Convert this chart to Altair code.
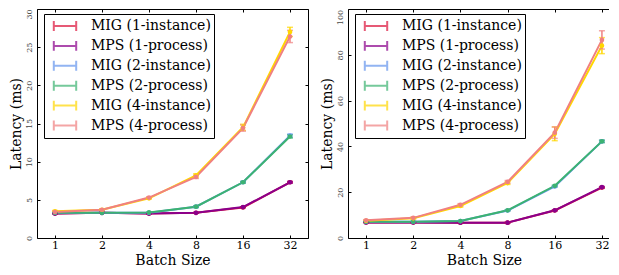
import altair as alt
import pandas as pd

batches = ["1", "2", "4", "8", "16", "32"]
series = ["MIG (1-instance)", "MPS (1-process)", "MIG (2-instance)",
          "MPS (2-process)", "MIG (4-instance)", "MPS (4-process)"]
colors = ["#dc143c", "#8b008b", "#6495ed", "#3cb371", "#ffd700", "#f08080"]

# left panel latency (ms)
left_vals = [
    [3.2, 3.3, 3.2, 3.3, 4.0, 7.3],
    [3.2, 3.3, 3.2, 3.3, 4.05, 7.3],
    [3.3, 3.3, 3.3, 4.1, 7.3, 13.4],
    [3.3, 3.3, 3.35, 4.1, 7.3, 13.3],
    [3.5, 3.7, 5.2, 8.2, 14.5, 27.0],
    [3.4, 3.7, 5.3, 8.0, 14.4, 26.4],
]
left_err = [
    [0.05, 0.05, 0.05, 0.05, 0.05, 0.1],
    [0.05, 0.05, 0.05, 0.05, 0.05, 0.1],
    [0.05, 0.05, 0.05, 0.1, 0.1, 0.2],
    [0.05, 0.05, 0.05, 0.1, 0.1, 0.2],
    [0.1, 0.1, 0.1, 0.2, 0.4, 0.6],
    [0.1, 0.1, 0.1, 0.2, 0.4, 0.8],
]
# right panel latency (ms)
right_vals = [
    [6.8, 6.8, 6.7, 6.7, 12.0, 22.0],
    [6.8, 6.8, 6.7, 6.7, 12.1, 22.2],
    [7.1, 7.1, 7.4, 12.0, 22.5, 42.2],
    [7.1, 7.1, 7.4, 12.1, 22.8, 42.2],
    [7.5, 8.6, 14.0, 24.0, 45.5, 84.0],
    [7.7, 8.8, 14.5, 24.5, 46.0, 86.5],
]
right_err = [
    [0.1, 0.1, 0.1, 0.1, 0.2, 0.3],
    [0.1, 0.1, 0.1, 0.1, 0.2, 0.3],
    [0.1, 0.1, 0.1, 0.2, 0.3, 0.5],
    [0.1, 0.1, 0.1, 0.2, 0.3, 0.5],
    [0.3, 0.3, 0.5, 0.6, 3.0, 3.5],
    [0.3, 0.3, 0.5, 0.6, 2.5, 4.0],
]

left_ticks = [0, 5, 10, 15, 20, 25, 30]
right_ticks = [0, 20, 40, 60, 80, 100]

FONT = "DejaVu Serif"


def make_df(vals, errs):
    rows = []
    for s, v, e in zip(series, vals, errs):
        for b, y, d in zip(batches, v, e):
            rows.append({"batch": b, "series": s, "latency": y,
                         "lo": y - d, "hi": y + d})
    return pd.DataFrame(rows)


legend_path = "M-1.4,0L1.4,0M-1.4,-0.62L-1.4,0.62M1.4,-0.62L1.4,0.62"


def panel(df, ymax, yticks, top_shift, w, h):
    xscale = alt.Scale(type="point", padding=0.383)
    yscale = alt.Scale(domain=[0, ymax], nice=False, zero=True)
    color = alt.Color(
        "series:N", sort=series,
        scale=alt.Scale(domain=series, range=colors),
        legend=alt.Legend(
            title=None, orient="none", legendX=7, legendY=5,
            symbolType=legend_path, symbolSize=256, symbolStrokeWidth=2,
            labelFont=FONT, labelFontSize=14, labelOffset=17,
            symbolOffset=9, padding=3, rowPadding=1.9,
            strokeColor="black", fillColor="white", labelColor="black",
            cornerRadius=0,
        ),
    )
    base = alt.Chart(df)
    lines = base.mark_line(strokeWidth=2).encode(
        x=alt.X("batch:O", sort=batches, scale=xscale,
                axis=alt.Axis(title="Batch Size", orient="bottom",
                              labelAngle=0, labelFont=FONT, labelFontSize=11,
                              titleFont=FONT, titleFontSize=14,
                              titleFontWeight="normal",
                              offset=-3, tickSize=3, domain=False,
                              labelPadding=1, titlePadding=3,
                              tickColor="black", labelColor="black",
                              titleColor="black", grid=False)),
        y=alt.Y("latency:Q", scale=yscale,
                axis=alt.Axis(title="Latency (ms)", orient="left",
                              values=yticks, labelAngle=270,
                              labelFont=FONT, labelFontSize=8,
                              titleFont=FONT, titleFontSize=14,
                              titleFontWeight="normal",
                              labelOffset={"condition": {
                                  "test": f"datum.value == {ymax}",
                                  "value": top_shift}, "value": 0},
                              offset=-3, tickSize=3, domain=False,
                              labelPadding=4, titlePadding=2,
                              tickColor="black", labelColor="#444",
                              titleColor="black", grid=False)),
        color=color,
    )
    points = base.mark_point(filled=True, size=22, opacity=1).encode(
        x=alt.X("batch:O", sort=batches, scale=xscale,
                axis=alt.Axis(title=None, orient="top", labels=False,
                              offset=-3, tickSize=3, domain=False,
                              tickColor="black", grid=False)),
        y=alt.Y("latency:Q", scale=yscale,
                axis=alt.Axis(title=None, orient="right", labels=False,
                              values=yticks, offset=-3, tickSize=3,
                              domain=False, tickColor="black", grid=False)),
        color=color,
    )
    errs = base.mark_errorbar(ticks={"size": 6, "thickness": 1.5},
                              thickness=1.5).encode(
        x=alt.X("batch:O", sort=batches, scale=xscale, axis=None),
        y=alt.Y("lo:Q", scale=yscale, axis=None, title=None),
        y2="hi:Q",
        color=color,
    )
    return alt.layer(lines, errs, points).resolve_axis(
        x="independent", y="independent"
    ).properties(width=w, height=h)


left = panel(make_df(left_vals, left_err), 30, left_ticks, 5, 271, 229)
right = panel(make_df(right_vals, right_err), 100, right_ticks, 8, 272, 229)

chart = alt.hconcat(left, right, spacing=10).resolve_scale(
    color="independent"
).resolve_legend(color="independent").properties(
    padding={"top": 0, "left": 0, "right": -12, "bottom": -1}
).configure(font=FONT).configure_view(
    stroke="black", strokeWidth=1
)

chart.save("out.html", embed_options={"renderer": "svg", "actions": False})
